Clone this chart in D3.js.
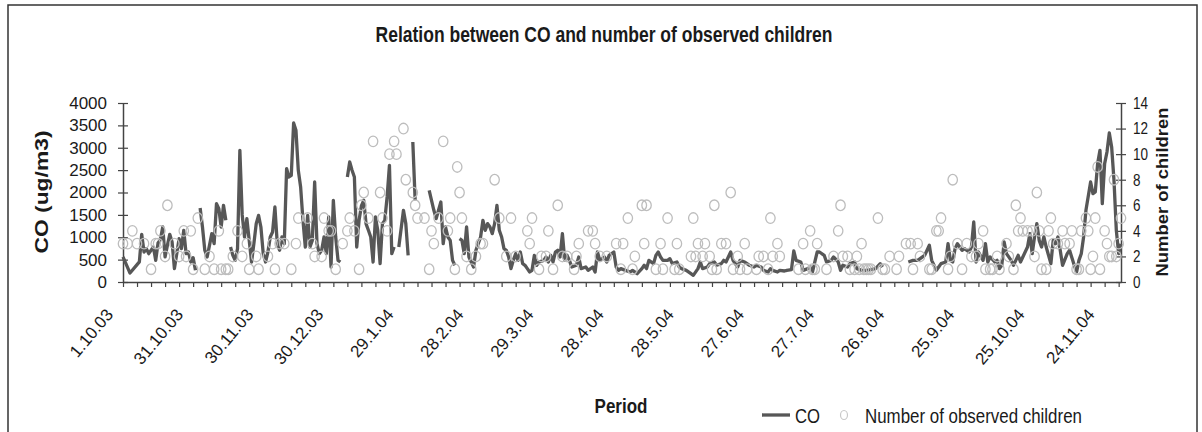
<html>
<head>
<script src="https://d3js.org/d3.v7.min.js"></script>
<style>
body { margin: 0; background: #fff; }
svg { font-family: "Liberation Sans", Arial, sans-serif; }
</style>
</head>
<body>
<div id="chart"></div>
<script type="text/javascript">

// day number counted from 1.10.03, null value = break in the CO line
var coDay = [0,3,7,8,9,10,11,13,14,15,16,17,18,19,20,21,22,23,24,25,26,27,28,29,30,31,32,
  33,34,35,36,37,38,39,40,41,42,43,44,45,
  46,47,48,49,50,51,52,53,54,55,56,57,58,59,60,61,62,63,64,65,66,67,68,69,70,71,72,73,74,75,76,77,78,79,80,81,82,83,84,85,86,87,88,89,90,91,92,93,94,
  96,97,98,99,100,101,102,103,104,105,106,107,108,109,110,111,112,113,114,115,116,117,
  118,120,121,122,123,124,125,126,
  131,133,134,135,136,137,138,139,140,141,142,143,
  144,145,146,147,148,149,150,151,152,153,154,155,156,157,158,159,160,161,162,163,164,165,166,167,168,169,170,171,172,173,174,175,176,177,178,
  180,181,182,183,184,185,186,187,188,189,190,191,192,194,195,196,198,199,201,202,203,204,206,207,208,210,211,212,213,215,217,218,220,222,223,224,225,227,228,229,230,231,233,234,235,237,238,239,241,243,244,246,247,248,250,251,253,254,256,257,258,259,260,261,263,264,266,267,268,270,271,273,274,276,277,278,280,281,283,284,286,287,288,290,291,293,294,295,297,298,
  300,301,303,304,306,307,308,310,311,313,314,316,318,320,322,324,325,330,
  336,338,340,343,345,346,348,349,350,352,353,354,355,356,357,358,359,360,362,363,364,365,366,368,369,370,371,373,374,375,376,377,378,380,381,383,384,385,387,388,389,390,391,392,393,394,395,397,398,399,400,401,402,404,405,407,408,409,410,411,412,414,415,416,417,418,419,420,421,422,423,424,425,426,427];

var coValue = [560,200,450,1065,670,745,633,782,484,872,946,1230,560,820,1065,894,300,633,969,745,1155,633,670,447,544,261,null,
  1654,1229,708,559,820,1080,857,1751,1639,1229,1714,1378,null,
  782,596,484,745,2943,1500,1006,1416,931,447,857,1304,1490,1229,633,447,670,1006,1118,1676,857,708,1006,857,2533,2347,2384,3554,3390,2496,2123,1378,782,1490,782,931,2235,857,633,708,1006,633,1453,335,1825,1006,484,447,null,
  2347,2682,2496,2347,782,1378,1700,1825,1300,1155,1006,447,1453,1155,410,1304,1378,1900,2608,633,782,null,
  782,1602,1304,596,null,3129,1825,null,
  2049,1602,1416,1602,1788,857,1229,1006,931,484,373,null,
  969,931,633,1229,559,447,335,708,857,1006,1378,1155,1304,1229,1080,1304,1714,1155,1006,745,708,559,298,484,633,484,670,410,373,298,224,261,596,373,447,
  484,559,447,596,447,670,708,559,1080,484,596,484,335,373,559,298,335,261,335,224,670,484,559,447,596,670,335,261,298,261,224,261,186,298,373,298,484,410,596,670,559,484,484,522,410,447,335,298,261,186,149,298,447,298,335,410,447,373,410,484,447,559,670,484,335,484,447,410,373,335,373,335,261,224,298,261,224,261,246,261,276,693,484,447,261,298,335,224,670,670,
  596,447,484,559,447,261,373,335,410,447,298,261,261,276,298,410,335,null,
  447,484,484,596,820,484,261,335,410,447,857,484,447,745,857,782,708,745,670,782,1341,447,670,484,857,447,559,447,484,298,373,894,633,484,373,596,447,559,782,1080,633,1006,1304,931,782,1006,782,410,931,857,1006,708,373,633,708,373,224,484,633,1006,1602,2235,1974,2012,2645,2943,1751,2645,2906,3330,3017,2272,1155,633,850];

var kidDay = [0,2,4,6,9,12,14,15,16,19,18,22,24,26,27,29,30,32,35,37,39,41,42,44,45,47,49,51,53,54,57,58,62,64,65,67,69,72,74,75,79,81,82,85,86,88,89,91,94,96,97,99,101,102,103,105,107,110,111,113,114,116,117,120,121,124,125,126,
  129,131,132,133,135,137,139,140,142,143,144,145,147,149,151,153,154,159,161,164,166,168,173,174,175,178,179,181,182,184,186,188,190,193,194,195,199,201,202,204,207,211,213,214,216,218,219,222,223,224,228,230,231,233,236,237,238,243,244,245,246,248,249,251,252,253,254,256,258,260,261,263,264,266,267,271,272,274,276,277,278,280,281,289,291,292,294,295,296,297,
  301,304,306,307,308,310,311,313,314,315,316,317,318,319,320,323,325,326,328,331,332,335,337,338,340,341,345,346,348,349,350,353,354,355,357,359,361,363,365,366,368,369,371,372,374,375,378,379,381,382,383,384,385,387,389,390,391,392,393,395,396,397,398,400,402,403,405,406,408,409,410,412,413,414,415,416,417,418,420,421,422,423,424,425,426,427];

var kidCount = [3,3,4,3,3,1,3,3,4,6,2,3,2,4,2,4,1,5,1,2,1,4,1,1,1,2,4,2,3,1,2,1,2,3,1,3,3,1,3,5,5,3,2,2,5,4,4,1,3,4,5,4,1,6,7,5,11,7,5,4,10,11,10,12,8,7,6,5,
  5,1,4,3,5,11,4,5,1,9,7,5,2,1,2,3,3,8,5,2,5,2,4,3,5,1,2,2,4,1,6,2,2,1,2,3,4,4,3,2,2,3,1,3,5,1,2,6,3,6,1,3,1,5,1,3,1,2,5,2,3,2,3,2,1,6,1,3,3,7,1,2,1,3,1,1,2,2,1,5,2,3,2,1,3,1,4,1,1,3,
  1,2,4,6,2,2,1,1,2,1,3,1,1,1,1,5,1,1,2,1,2,3,3,1,3,2,1,1,4,4,5,1,2,8,3,1,3,2,2,3,4,1,1,1,2,1,3,2,1,6,4,5,4,4,4,2,7,4,1,1,4,5,3,3,4,3,3,4,1,1,4,5,4,1,2,5,9,1,4,3,2,2,8,2,3,5];

var dateLabels = ["1.10.03","31.10.03","30.11.03","30.12.03","29.1.04","28.2.04","29.3.04","28.4.04",
  "28.5.04","27.6.04","27.7.04","26.8.04","25.9.04","25.10.04","24.11.04"];
var coTicks = [0,500,1000,1500,2000,2500,3000,3500,4000];
var kidTicks = [0,2,4,6,8,10,12,14];

var W = 1202, H = 432;
var padL = 123, padR = 1121, padT = 103, padB = 282;
var stretch = "scale(1,1.23)"; // the original texts are drawn a little tall

var parseLabel = d3.utcParse("%d.%m.%y");
var start = parseLabel("1.10.03");
function dayDate(d) { return d3.utcDay.offset(start, d); }

var svg = d3.select("#chart").append("svg")
	.attr("width", W)
	.attr("height", H);

// frame
svg.append("rect")
	.attr("x", 8).attr("y", 5)
	.attr("width", 1189).attr("height", 460)
	.style("fill", "none")
	.style("stroke", "#333")
	.style("stroke-width", 1.5);

var x = d3.scaleUtc()
	.domain([start, dayDate(427)])
	.range([padL, padR]);
var yCO = d3.scaleLinear().domain([0, 4000]).range([padB, padT]);
var yKid = d3.scaleLinear().domain([0, 14]).range([padB, padT]);

// x axis with a tick every 6 days
var xAxis = d3.axisBottom(x)
	.tickValues(d3.range(0, 428, 6).map(dayDate))
	.tickSizeInner(5).tickSizeOuter(0)
	.tickFormat("");
svg.append("g")
	.attr("transform", "translate(0," + padB + ")")
	.call(xAxis);

// left axis
var gl = svg.append("g")
	.attr("transform", "translate(" + padL + ",0)")
	.call(d3.axisLeft(yCO).tickValues(coTicks).tickFormat(d3.format("d")).tickSizeOuter(0).tickPadding(10));
gl.selectAll(".tick line").attr("x1", -5).attr("x2", 5);
gl.selectAll(".tick text").style("font-size", "17px");

// right axis
var gr = svg.append("g")
	.attr("transform", "translate(" + padR + ",0)")
	.call(d3.axisRight(yKid).tickValues(kidTicks).tickFormat(d3.format("d")).tickSizeOuter(0).tickPadding(6));
gr.selectAll(".tick line").attr("x1", -5).attr("x2", 5);
gr.selectAll(".tick text").style("font-size", "13.5px").attr("transform", stretch);

svg.selectAll(".domain").style("stroke", "#444").style("stroke-width", 1.5);
svg.selectAll(".tick line").style("stroke", "#444").style("stroke-width", 1.2);
svg.selectAll(".tick text").style("fill", "#1a1a1a").style("font-family", "Liberation Sans, Arial, sans-serif");

// rotated date labels
svg.append("g").selectAll("text")
	.data(dateLabels)
	.enter().append("text")
	.attr("transform", function(d) {
		return "translate(" + (x(parseLabel(d)) - 9) + "," + (padB + 33) + ") rotate(-50)";
	})
	.attr("text-anchor", "end")
	.style("font-size", "17px")
	.style("fill", "#1a1a1a")
	.text(function(d) { return d; });

// CO line
var coData = coDay.map(function(d, i) { return { date: dayDate(d), v: coValue[i] }; });
var line = d3.line()
	.defined(function(d) { return d.v != null; })
	.x(function(d) { return x(d.date); })
	.y(function(d) { return yCO(d.v); });
svg.append("path")
	.datum(coData)
	.attr("d", line)
	.style("fill", "none")
	.style("stroke", "#575757")
	.style("stroke-width", 3.3)
	.style("stroke-linejoin", "round");

// children markers
svg.append("g").selectAll("ellipse")
	.data(kidDay.map(function(d, i) { return { date: dayDate(d), v: kidCount[i] }; }))
	.enter().append("ellipse")
	.attr("cx", function(d) { return x(d.date); })
	.attr("cy", function(d) { return yKid(d.v); })
	.attr("rx", 4.7)
	.attr("ry", 5.3)
	.style("fill", "none")
	.style("stroke", "#bdbdbd")
	.style("stroke-width", 1.3);

// titles
function tallText(px, py, str, size, weight, anchor) {
	return svg.append("g")
		.attr("transform", "translate(" + px + "," + py + ") " + stretch)
		.append("text")
		.attr("text-anchor", anchor)
		.style("font-size", size)
		.style("font-weight", weight)
		.style("fill", "#1a1a1a")
		.text(str);
}

tallText(604, 42, "Relation between CO and number of observed children", "17.5px", "bold", "middle");
tallText(621, 413, "Period", "17px", "bold", "middle");

svg.append("text")
	.attr("transform", "translate(48,192) rotate(-90)")
	.attr("text-anchor", "middle")
	.attr("textLength", 123)
	.attr("lengthAdjust", "spacingAndGlyphs")
	.style("font-size", "18px")
	.style("font-weight", "bold")
	.style("fill", "#1a1a1a")
	.text("CO (ug/m3)");

svg.append("text")
	.attr("transform", "translate(1168,192) rotate(-90)")
	.attr("text-anchor", "middle")
	.attr("textLength", 169)
	.attr("lengthAdjust", "spacingAndGlyphs")
	.style("font-size", "17px")
	.style("font-weight", "bold")
	.style("fill", "#1a1a1a")
	.text("Number of children");

// legend
svg.append("line")
	.attr("x1", 762).attr("x2", 790).attr("y1", 415).attr("y2", 415)
	.style("stroke", "#575757").style("stroke-width", 3.3);
tallText(795, 423, "CO", "16.7px", "normal", "start");
svg.append("ellipse")
	.attr("cx", 844).attr("cy", 415).attr("rx", 3.5).attr("ry", 4.5)
	.style("fill", "none").style("stroke", "#c8c8c8").style("stroke-width", 1.2);
tallText(865, 423, "Number of observed children", "16.9px", "normal", "start");

</script>
</body>
</html>
